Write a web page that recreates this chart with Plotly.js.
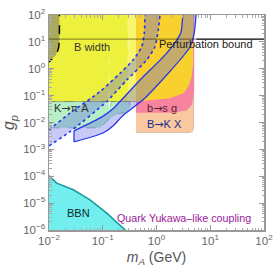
<!DOCTYPE html>
<html><head><meta charset="utf-8">
<script src="https://cdn.plot.ly/plotly-3.0.1.min.js"></script>
<style>html,body{margin:0;padding:0;background:#fff}#c{width:274px;height:269px}</style>
</head><body><div id="c"></div>
<script>
// ---- data (m_A in GeV, g_p) ----
const peachX = [0.4159, 4.169, 4.677, 4.898, 4.898, 0.4159];
const peachY = [4.217e-3, 4.217e-3, 4.677e-3, 6.310e-3, 200, 200];
const pinkX = [0.4159, 1.995, 3.631, 4.571, 5.012, 5.012, 0.4159];
const pinkY = [0.02291, 0.02291, 0.02818, 0.04467, 0.1259, 200, 200];
const goldX = [0.4159, 1.782, 3.162, 3.890, 4.519, 4.786, 4.842, 0.4159];
const goldY = [0.06026, 0.07943, 0.1230, 0.2138, 0.5129, 1.585, 200, 200];
const bwidthX = [0.009, 0.2951, 0.2951, 0.009];
const bwidthY = [0.06026, 0.06026, 200, 200];
const stripX = [0.2951, 0.4159, 0.4159, 0.2951];
const stripY = [0.06026, 0.06026, 200, 200];
const kpiX = [0.00891, 0.1259, 0.1349, 0.1445, 0.3162, 0.3311, 0.2818, 0.1905, 0.1413, 0.0891, 0.00891];
const kpiY = [0.06026, 0.06026, 0.03162, 0.06026, 0.06026, 0.03981, 0.02399, 0.02089, 0.01514, 6.31e-3, 6.31e-3];
const darkX = [0.00891, 0.01556, 0.01556, 0.01503, 0.01349, 0.01138, 0.01, 0.00891];
const darkY = [200, 200, 11.75, 5.888, 3.236, 2.291, 1.820, 1.738];
const dashX = [0.01556, 0.01556, 0.01503, 0.01349, 0.01138, 0.01, 0.00891];
const dashY = [200, 11.75, 5.888, 3.236, 2.291, 1.820, 1.738];
const bbnX = [0.009, 0.01, 0.0139, 0.0283, 0.058, 0.1186, 0.2594, 0.2594, 0.009];
const bbnY = [1.035e-4, 1.035e-4, 5.53e-5, 3.12e-5, 1.33e-5, 4.25e-6, 1.02e-6, 1e-7, 1e-7];
const dotUpX = [0.01, 0.0246, 0.0889, 0.2094, 0.370, 0.531, 0.593, 0.611, 0.617];
const dotUpY = [5.37e-3, 0.0224, 0.141, 0.676, 2.14, 6.61, 20.9, 100, 200];
const dotLoX = [0.01, 0.0246, 0.1183, 0.2793, 0.6577, 0.9376, 1.079, 1.161, 1.175];
const dotLoY = [1.35e-3, 4.57e-3, 0.0603, 0.380, 2.14, 6.61, 27.5, 100, 200];
const solUpX = [0.02917, 0.0968, 0.1552, 0.4932, 1.567, 2.818, 3.076, 3.090];
const solUpY = [4.90e-3, 0.01622, 0.03236, 0.3802, 3.89, 20.89, 100, 200];
const solLoX = [0.02917, 0.1012, 0.1552, 0.2382, 0.6109, 4.198, 5.012, 5.433, 5.495];
const solLoY = [1.905e-3, 4.07e-3, 7.41e-3, 0.0182, 0.0813, 6.457, 20.89, 100, 200];
const pertX = [0.01, 5.5, 100];
const pertY = [4 * Math.PI, 4 * Math.PI, 4 * Math.PI];
const faint1X = [0.2951, 0.2951], faint1Y = [0.06026, 200];
const faint2X = [0.1306, 0.1306], faint2Y = [0.06026, 2.51];
const edgeX = [0.01, 0.4159], edgeY = [0.06026, 0.06026];
const xTickVals = [0.01, 0.1, 1, 10, 100];
const xTickText = ['10<sup>−2</sup>', '10<sup>−1</sup>', '10<sup>0</sup>', '10<sup>1</sup>', '10<sup>2</sup>'];
const yTickVals = [1e-6, 1e-5, 1e-4, 1e-3, 1e-2, 1e-1, 1, 10, 100];
const yTickText = ['10<sup>−6</sup>', '10<sup>−5</sup>', '10<sup>−4</sup>', '10<sup>−3</sup>', '10<sup>−2</sup>',
                   '10<sup>−1</sup>', '10<sup>0</sup>', '10<sup>1</sup>', '10<sup>2</sup>'];

const BLUE = '#2336ee';
const BAND = 'rgba(90,90,235,0.33)';
const poly = (x, y, fc, lc, lw, dash) => ({x, y, type:'scatter', mode:'lines', fill:'toself', fillcolor:fc,
  line:{color:lc||'rgba(0,0,0,0)', width:lw||0, dash:dash||'solid'}, hoverinfo:'skip', showlegend:false});
const line = (x, y, c, w, dash, shape) => ({x, y, type:'scatter', mode:'lines',
  line:{color:c, width:w, dash:dash||'solid', shape:shape||'linear', smoothing:0.6}, hoverinfo:'skip', showlegend:false});
const band = (ux, uy, lx, ly) => poly(ux.concat(lx.slice().reverse()), uy.concat(ly.slice().reverse()), BAND);

const traces = [
  poly(peachX, peachY, '#f9c8a0', 'rgba(120,80,40,0.35)', 0.7),
  poly(pinkX, pinkY, '#f7849e'),
  poly(goldX, goldY, '#f8d12e'),
  poly(bwidthX, bwidthY, '#eef03e'),
  poly(stripX, stripY, '#f6f56c'),
  poly(kpiX, kpiY, '#b6efc6', 'rgba(60,110,80,0.45)', 1, 'dash'),
  poly(darkX, darkY, 'rgba(100,100,120,0.5)'),
  poly(bbnX, bbnY, '#72eeee', '#1a9c9c', 1.6),
  line(faint1X, faint1Y, '#fbfb9c', 1, 'dash'),
  line(faint2X, faint2Y, '#f8f894', 1, 'dash'),
  line(edgeX, edgeY, 'rgba(90,90,40,0.45)', 1),
  band(dotUpX, dotUpY, dotLoX, dotLoY),
  band(solUpX, solUpY, solLoX, solLoY),
  line(dotLoX, dotLoY, BLUE, 1.6, 'dot', 'spline'),
  line(dotUpX, dotUpY, BLUE, 1.6, 'dot', 'spline'),
  line(solLoX, solLoY, BLUE, 1.3, 'solid', 'spline'),
  line(solUpX, solUpY, BLUE, 1.3, 'solid', 'spline'),
  line([solUpX[0], solLoX[0]], [solUpY[0], solLoY[0]], BLUE, 1.3),
  line(pertX.slice(0, 2), pertY.slice(0, 2), 'rgba(0,0,0,0.4)', 1.3),
  line(pertX.slice(1), pertY.slice(1), '#000', 1.3),
  line(dashX, dashY, '#000', 1.5, 'dash', 'spline'),
];

const F = 'Liberation Sans, Arial, sans-serif';
const AR = '<span style="font-family:DejaVu Sans">→</span>';
const ann = (text, x, y, color, size, xa) => ({text, x, y, xref:'paper', yref:'paper', showarrow:false,
  xanchor:xa||'left', yanchor:'middle', font:{family:F, size:size||11, color:color||'#333'}});

const axisCommon = {type:'log', tickmode:'array', showgrid:false, zeroline:false,
  showline:true, linecolor:'#999', linewidth:1.5, mirror:'allticks', ticks:'inside', ticklen:5,
  tickcolor:'#999', tickwidth:1, minor:{dtick:'D1', ticks:'inside', ticklen:2.5, tickcolor:'#aaa', tickwidth:1},
  tickfont:{family:F, size:11.5, color:'#666'}};

const layout = {
  width:274, height:269, margin:{l:49, r:10, t:15, b:39}, paper_bgcolor:'#fff', plot_bgcolor:'#fff',
  font:{family:F},
  xaxis:Object.assign({}, axisCommon, {range:[-2, 2], tickvals:xTickVals, ticktext:xTickText,
    title:{text:'<i>m</i><sub><i>A</i></sub> (GeV)', font:{family:F, size:14, color:'#555'}, standoff:6}}),
  yaxis:Object.assign({}, axisCommon, {range:[-6, 2], tickvals:yTickVals, ticktext:yTickText,
    title:{text:'<i>g</i><sub><i>p</i></sub>', font:{family:F, size:16, color:'#555'}, standoff:4}}),
  annotations:[
    ann('B width', 0.2, 0.851, '#333', 11, 'center'),
    ann('Perturbation bound', 0.50, 0.863, '#222', 11),
    ann('K' + AR + 'π A', 0.012, 0.563, '#333', 11),
    ann('b' + AR + 's g', 0.448, 0.567, '#5a2038', 11),
    ann('B' + AR + 'K X', 0.448, 0.493, '#1a2a8a', 11),
    ann('BBN', 0.073, 0.080, '#0a2a2a', 11),
    ann('Quark Yukawa–like coupling', 0.305, 0.058, '#9a1a9a', 10.7),
  ],
};
Plotly.newPlot('c', traces, layout, {staticPlot:true, displayModeBar:false});
</script></body></html>
